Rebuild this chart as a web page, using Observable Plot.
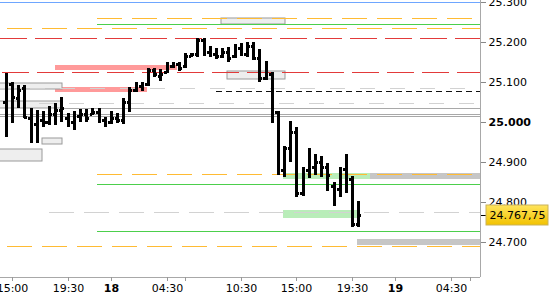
<!DOCTYPE html>
<html><head><meta charset="utf-8">
<script src="https://cdn.jsdelivr.net/npm/d3@7"></script>
<script src="https://cdn.jsdelivr.net/npm/@observablehq/plot@0.6"></script>
<style>body{margin:0;background:#fff;} svg{display:block}</style>
</head><body><div id="chart"></div>
<script>
// 30-minute OHLC bars; slot index of first bar
const firstSlot = -1;
const highs = [25122.5,25100,25092.5,25092.5,25035,25030,25027.5,25040,25047.5,25062.5,25022.5,25027.5,25032.5,25032.5,25035,25035,25012.5,25027.5,25022.5,25060,25087.5,25100,25100,25135,25135,25132.5,25150,25150,25150,25172.5,25172.5,25210,25210,25190,25185,25185,25187.5,25195,25197.5,25200,25200,25182.5,25152.5,25125,25027.5,24940,25002.5,24987.5,24887.5,24935,24920,24915,24897.5,24850,24887.5,24920,24865,24802.5];
const lows = [24962.5,24997.5,25035,25010,24947.5,24947.5,24987.5,24992.5,24992.5,25000,24987.5,24980,25000,25000,25017.5,24997.5,24987.5,24995,24997.5,24995,25025,25075,25077.5,25090,25112.5,25102.5,25122.5,25135,25127.5,25135,25162.5,25162.5,25165,25162.5,25157.5,25160,25150,25160,25165,25162.5,25155,25100,25105,24997.5,24867.5,24862.5,24900,24812.5,24815,24860,24867.5,24862.5,24827.5,24790,24812.5,24822.5,24737.5,24737.5];
const opens = [25050,25095,25060,25085,25010,24995,25005,25000,25020,25030,25010,25000,25015,25020,25020,25025,25005,25000,25010,25005,25050,25080,25090,25095,25130,25115,25125,25140,25145,25140,25165,25170,25205,25175,25170,25165,25175,25165,25185,25170,25190,25160,25110,25120,25025,24880,24935,24975,24822,24880,24887,24900,24887,24840,24832,24882,24857,24745];
const closes = [25090,25062,25080,25012,24992,25005,25000,25020,25030,25035,25000,25015,25020,25010,25025,25005,25000,25010,25005,25050,25080,25090,25085,25130,25120,25120,25140,25145,25135,25165,25170,25205,25175,25170,25165,25175,25160,25185,25170,25190,25160,25110,25120,25025,24882,24935,24975,24822,24882,24887,24900,24887,24867,24832,24882,24857,24745,24767.75];
const lastPrice = 24767.75;

// time axis
const tickSlots = [0, 9, 25, 37, 46, 55, 71];
const tickLabels = ["15:00","19:30","04:30","10:30","15:00","19:30","04:30"];
const daySlots = [16, 62];
const dayLabels = ["18", "19"];
const minorTickSlots = [28, 74];

// price axis
const priceTicks = [24700, 24800, 24900, 25100, 25200, 25300];
const boldPriceTicks = [25000];

// scale extents
const xDomain = [-1.94, 75.69];
const yDomain = [24612.5, 25305];

// zones: [fromSlot, toSlot, lowPrice, highPrice]
const salmonZones = [[6.95, 26.7, 25130, 25142.5], [6.95, 21.8, 25075, 25087.5]];
const grayBoxes = [[33.8, 44.15, 25245, 25259], [34.8, 44.15, 25107, 25127.5], [-3, 8.1, 25082.5, 25097.5], [-3, 8.1, 25034, 25053.75], [4.85, 8.1, 24945, 24960], [-3, 4.85, 24902.5, 24932.5]];
const greenZones = [[43.8, 58.9, 24857.5, 24872.5], [43.8, 56.1, 24760, 24780]];
const grayBands = [[57.9, 75.69, 24857.5, 24872.5], [55.75, 75.69, 24692.5, 24707.5]];

// levels: [price, fromSlot]
const blueLevels = [[25299, -2]];
const orangeLevels = [[25259, 13.75], [25234, -0.8], [24871, 13.75], [24690, -0.8]];
const greenLevels = [[25245, 13.75], [24845, 13.75], [24727.5, 13.75]];
const redLevels = [[25211, -2], [25125, -1.67]];
const lightLevels = [[25086, -2], [25047.5, 4.35]];
const lightLevels2 = [[24774, 6.0]];
const blackLevels = [[25077.5, 33]];
const grayLevels = [[25034, 8.1], [25021, -2], [25015, -2]];

const bars = highs.map((h, k) => ({slot: firstSlot + k, high: h, low: lows[k], open: opens[k], close: closes[k]}));
const zone = a => a.map(([x1, x2, y1, y2]) => ({x1, x2, y1, y2}));
const lvl = a => a.map(([price, from]) => ({price, from}));
const xEnd = xDomain[1];

const de = d3.formatLocale({decimal: ",", thousands: ".", grouping: [3], currency: ["", ""]});
const fmtInt = de.format(",");
const fmtPrice = de.format(",.2f");

function levelRule(a, stroke, dash) {
  return Plot.ruleY(lvl(a), {y: "price", x1: "from", x2: () => xEnd, stroke, strokeWidth: 1, strokeDasharray: dash});
}
function zoneRect(a, opts) {
  return Plot.rect(zone(a), {x1: "x1", x2: "x2", y1: "y1", y2: "y2", ...opts});
}

const chart = Plot.plot({
  width: 550, height: 300,
  marginLeft: 0, marginRight: 70, marginTop: 0, marginBottom: 23,
  x: {type: "linear", domain: xDomain, label: null, round: true},
  y: {type: "linear", domain: yDomain, label: null, round: true},
  style: {fontFamily: "DejaVu Sans", fontSize: "11px", background: "white", color: "black"},
  marks: [
    zoneRect(salmonZones, {fill: "#ff9a9a"}),
    zoneRect(grayBoxes, {fill: "#eeeeee", stroke: "#9a9a9a"}),
    zoneRect(greenZones, {fill: "#b9edb9"}),
    zoneRect(grayBands, {fill: "#c6c6c6"}),
    levelRule(blueLevels, "#6ea6ff", null),
    levelRule(orangeLevels, "#ffbb33", "25,10"),
    levelRule(greenLevels, "#4ccf4c", null),
    levelRule(redLevels, "#e23a3a", "27,8"),
    levelRule(lightLevels, "#d2d2d2", "15,15"),
    levelRule(lightLevels2, "#d2d2d2", "25,10"),
    levelRule(blackLevels, "#111", "6,4"),
    levelRule(grayLevels, "#a8a8a8", null),
    // OHLC bars
    Plot.ruleX(bars, {x: "slot", y1: "low", y2: "high", stroke: "black", strokeWidth: 3}),
    Plot.ruleY(bars, {y: "open", x1: d => d.slot - 0.42, x2: "slot", stroke: "black", strokeWidth: 3}),
    Plot.ruleY(bars, {y: "close", x1: "slot", x2: d => d.slot + 0.42, stroke: "black", strokeWidth: 3}),
    // axis lines
    Plot.ruleX([xEnd], {stroke: "#a8a8a8"}),
    Plot.ruleY([yDomain[0]], {stroke: "#a8a8a8"}),
    // axes
    Plot.axisY(priceTicks, {anchor: "right", tickSize: 5, tickPadding: 3, tickFormat: fmtInt, stroke: "#888", fill: "black", label: null}),
    Plot.axisY(boldPriceTicks, {anchor: "right", tickSize: 5, tickPadding: 3, tickFormat: fmtInt, stroke: "#888", fill: "black", fontWeight: "bold", label: null}),
    Plot.axisX(tickSlots, {anchor: "bottom", tickSize: 4, tickPadding: 3, tickFormat: s => tickLabels[tickSlots.indexOf(s)], stroke: "#999", fill: "black", label: null}),
    Plot.axisX(daySlots, {anchor: "bottom", tickSize: 4, tickPadding: 3, tickFormat: s => dayLabels[daySlots.indexOf(s)], stroke: "#999", fill: "black", fontWeight: "bold", label: null}),
    Plot.axisX(minorTickSlots, {anchor: "bottom", tickSize: 4, tickFormat: () => "", stroke: "#999", label: null}),
    // last price label
    Plot.axisY([lastPrice], {anchor: "right", tickSize: 5, tickFormat: () => "", stroke: "black", label: null}),
    Plot.rect([lastPrice], {x1: () => xEnd, x2: () => xEnd, y1: d => d, y2: d => d, insetLeft: 6, insetRight: -68, insetTop: -10, insetBottom: -10, fill: "url(#goldGrad)", stroke: "#c9b25a"}),
    Plot.text([lastPrice], {x: () => xEnd, y: d => d, text: d => fmtPrice(d), dx: 9, textAnchor: "start", fill: "black", fontSize: 11})
  ]
});

const defs = d3.select(chart).insert("defs", ":first-child");
const grad = defs.append("linearGradient").attr("id", "goldGrad").attr("x1", 0).attr("y1", 0).attr("x2", 0).attr("y2", 1);
grad.append("stop").attr("offset", "0%").attr("stop-color", "#ffe45c");
grad.append("stop").attr("offset", "100%").attr("stop-color", "#f2c200");

document.getElementById("chart").appendChild(chart);
</script>
</body></html>
